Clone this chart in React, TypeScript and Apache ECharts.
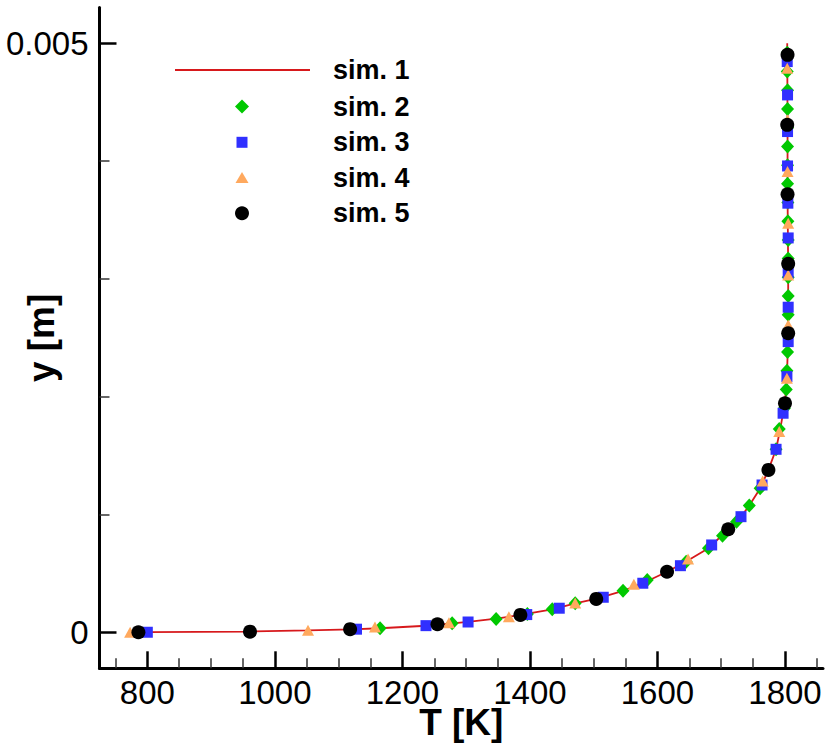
import React, { useEffect, useRef } from 'react';
import * as echarts from 'echarts';

const FONT = '"Liberation Sans", Arial, Helvetica, sans-serif';

const xMajorTicks = [800, 1000, 1200, 1400, 1600, 1800];
const xMinorTicks = [750, 850, 900, 950, 1050, 1100, 1150, 1250, 1300, 1350, 1450, 1500, 1550, 1650, 1700, 1750, 1850];
const yMajorTicks = [0, 0.005];
const yMinorTicks = [0.001, 0.002, 0.003, 0.004];

const seriesNames = ['sim. 1', 'sim. 2', 'sim. 3', 'sim. 4', 'sim. 5'];

// [T (K), y (m)]
const sim1: number[][] = [
  [773, 0], [800, 0.000001], [961, 0.000006], [1052, 0.000016], [1120, 0.000025],
  [1165, 0.000034], [1237, 0.000055], [1278, 0.000075], [1303, 0.000088], [1347, 0.000115],
  [1385, 0.000147], [1435, 0.000195], [1471, 0.000245], [1505, 0.000285], [1546, 0.000352],
  [1577, 0.000416], [1615, 0.000514], [1645, 0.0006], [1680, 0.000713], [1711, 0.000874],
  [1731, 0.00098], [1744, 0.001075], [1761, 0.00122], [1774, 0.001378], [1786, 0.001553],
  [1792, 0.00171], [1797, 0.00186], [1800, 0.00195], [1803, 0.00217], [1805, 0.0025],
  [1805, 0.0031], [1804, 0.0037], [1804, 0.0043], [1803.5, 0.005],
];

const sim2: number[][] = [
  [1165, 0.000034], [1278, 0.000076], [1347, 0.000113], [1396, 0.000155], [1435, 0.000195],
  [1471, 0.000246], [1546, 0.000353], [1584, 0.000444], [1645, 0.000599], [1680, 0.000713],
  [1702, 0.00082], [1724, 0.000939], [1744, 0.001075], [1761, 0.001222], [1786, 0.001553],
  [1791, 0.001726], [1799, 0.001902], [1802, 0.00206], [1803, 0.002219], [1804, 0.002378],
  [1805, 0.002537], [1805, 0.002695], [1805, 0.002854], [1805, 0.003013], [1805, 0.003172],
  [1805, 0.00333], [1804.5, 0.003489], [1804.5, 0.003648], [1804, 0.003807], [1804, 0.003965],
  [1804, 0.004124], [1804, 0.004283], [1804, 0.004441], [1804, 0.0046], [1803.5, 0.004759],
  [1803.5, 0.004918],
];

const sim3: number[][] = [
  [800, 0], [1128, 0.000026], [1237, 0.000056], [1303, 0.000087], [1395, 0.00015],
  [1446, 0.000204], [1515, 0.000297], [1577, 0.000416], [1636, 0.000565], [1685, 0.000741],
  [1731, 0.000981], [1764, 0.00125], [1786, 0.001553], [1797, 0.001859], [1803, 0.00217],
  [1805, 0.002467], [1805, 0.002759], [1805, 0.00305], [1805, 0.003347], [1804.5, 0.003642],
  [1804, 0.003958], [1804, 0.00425], [1804, 0.004561], [1803.5, 0.004844],
];

const sim4: number[][] = [
  [773, 0], [1052, 0.000018], [1157, 0.000045], [1273, 0.000081], [1367, 0.000132],
  [1471, 0.000249], [1563, 0.000407], [1648, 0.000622], [1765, 0.001284], [1791, 0.001703],
  [1803, 0.002156], [1805, 0.002609], [1805, 0.003033], [1805, 0.003472], [1804, 0.00391],
  [1804, 0.004349], [1803.5, 0.004788],
];

const sim5: number[][] = [
  [786, 0], [961, 0.000005], [1118, 0.000026], [1255, 0.000068], [1385, 0.000147],
  [1504, 0.000283], [1615, 0.000514], [1711, 0.000874], [1774, 0.001378], [1800, 0.001944],
  [1805, 0.002538], [1805, 0.003127], [1804, 0.003718], [1803.5, 0.004307], [1804, 0.004901],
];

const RED = '#d7191c';
const GREEN = '#00c800';
const BLUE = '#3030ff';
const ORANGE = '#ffa95e';
const BLACK = '#000000';

const X_MIN = 725;
const X_MAX = 1859.6;
const Y_MIN = -0.000306;
const Y_MAX = 0.005303;

function legendFor(
  name: string,
  icon: string,
  left: number,
  centerY: number,
  w: number,
  h: number,
  color?: string
) {
  const textLeft = 333;
  return {
    data: [{ name, icon, ...(color ? { itemStyle: { color } } : {}) }],
    orient: 'horizontal',
    left,
    top: centerY - 13.5,
    itemWidth: w,
    itemHeight: h,
    padding: 0,
    selectedMode: false,
    textStyle: {
      fontFamily: FONT,
      fontSize: 27,
      fontWeight: 'bold',
      color: '#000',
      padding: [0, 0, 0, textLeft - 5 - left - w],
    },
  };
}

export default function App() {
  const ref = useRef<HTMLDivElement>(null);

  useEffect(() => {
    if (!ref.current) return;
    const chart = echarts.init(ref.current, undefined, { renderer: 'svg' });

    const majorTickStyle = { color: '#000', width: 2.5 };
    const minorTickStyle = { color: '#333', width: 1.5 };

    const option: any = {
      animation: false,
      backgroundColor: '#ffffff',
      textStyle: { fontFamily: FONT },
      grid: { left: 99.5, right: 7, top: 7.5, bottom: 84.7, outerBoundsMode: 'none', containLabel: false },
      legend: [
        legendFor(seriesNames[0], 'rect', 175, 70, 135, 2, RED),
        legendFor(seriesNames[1], 'diamond', 235, 106.5, 14, 14),
        legendFor(seriesNames[2], 'rect', 236.5, 142.3, 11, 11),
        legendFor(seriesNames[3], 'triangle', 235.5, 177.5, 13, 11),
        legendFor(seriesNames[4], 'circle', 235, 213.3, 14, 14),
      ],
      xAxis: [
        {
          type: 'value',
          min: X_MIN,
          max: X_MAX,
          position: 'bottom',
          axisLine: { show: true, onZero: false, lineStyle: { color: '#000', width: 3 } },
          axisTick: { show: true, inside: true, length: 17, lineStyle: majorTickStyle, customValues: xMajorTicks },
          axisLabel: {
            show: true,
            customValues: xMajorTicks,
            fontSize: 33,
            color: '#000',
            margin: 8,
            fontFamily: FONT,
            formatter: (v: number) => String(v),
          },
          splitLine: { show: false },
          minorTick: { show: false },
          name: 'T [K]',
          nameLocation: 'middle',
          nameGap: 36,
          nameMoveOverlap: false,
          nameTextStyle: { fontSize: 37, fontWeight: 'bold', color: '#000', fontFamily: FONT },
        },
        {
          type: 'value',
          min: X_MIN,
          max: X_MAX,
          position: 'bottom',
          axisLine: { show: false, onZero: false },
          axisTick: { show: true, inside: true, length: 10, lineStyle: minorTickStyle, customValues: xMinorTicks },
          axisLabel: { show: false },
          splitLine: { show: false },
        },
      ],
      yAxis: [
        {
          type: 'value',
          min: Y_MIN,
          max: Y_MAX,
          position: 'left',
          axisLine: { show: true, onZero: false, lineStyle: { color: '#000', width: 3 } },
          axisTick: { show: true, inside: true, length: 17, lineStyle: majorTickStyle, customValues: yMajorTicks },
          axisLabel: {
            show: true,
            customValues: yMajorTicks,
            fontSize: 33,
            color: '#000',
            margin: 11,
            fontFamily: FONT,
            formatter: (v: number) => (v === 0 ? '0' : String(v)),
          },
          splitLine: { show: false },
          minorTick: { show: false },
          name: 'y [m]',
          nameLocation: 'middle',
          nameGap: 40,
          nameRotate: 90,
          nameMoveOverlap: false,
          nameTextStyle: { fontSize: 37, fontWeight: 'bold', color: '#000', fontFamily: FONT },
        },
        {
          type: 'value',
          min: Y_MIN,
          max: Y_MAX,
          position: 'left',
          axisLine: { show: false, onZero: false },
          axisTick: { show: true, inside: true, length: 10, lineStyle: minorTickStyle, customValues: yMinorTicks },
          axisLabel: { show: false },
          splitLine: { show: false },
        },
      ],
      series: [
        {
          name: seriesNames[0],
          type: 'line',
          data: sim1,
          xAxisIndex: 0,
          yAxisIndex: 0,
          symbol: 'none',
          smooth: false,
          lineStyle: { color: RED, width: 1.8 },
          itemStyle: { color: RED },
          z: 2,
        },
        {
          name: seriesNames[1],
          type: 'scatter',
          data: sim2,
          xAxisIndex: 0,
          yAxisIndex: 0,
          symbol: 'diamond',
          symbolSize: [13, 14],
          itemStyle: { color: GREEN, opacity: 1 },
          z: 3,
        },
        {
          name: seriesNames[2],
          type: 'scatter',
          data: sim3,
          xAxisIndex: 0,
          yAxisIndex: 0,
          symbol: 'rect',
          symbolSize: [11, 11],
          itemStyle: { color: BLUE, opacity: 1 },
          z: 4,
        },
        {
          name: seriesNames[3],
          type: 'scatter',
          data: sim4,
          xAxisIndex: 0,
          yAxisIndex: 0,
          symbol: 'triangle',
          symbolSize: [12, 11],
          itemStyle: { color: ORANGE, opacity: 1 },
          z: 5,
        },
        {
          name: seriesNames[4],
          type: 'scatter',
          data: sim5,
          xAxisIndex: 0,
          yAxisIndex: 0,
          symbol: 'circle',
          symbolSize: 14,
          itemStyle: { color: BLACK, opacity: 1 },
          z: 6,
        },
      ],
    };

    chart.setOption(option);
    return () => {
      chart.dispose();
    };
  }, []);

  return (
    <div
      ref={ref}
      style={{ position: 'fixed', left: 0, top: 0, width: 830, height: 753, background: '#fff' }}
    />
  );
}
